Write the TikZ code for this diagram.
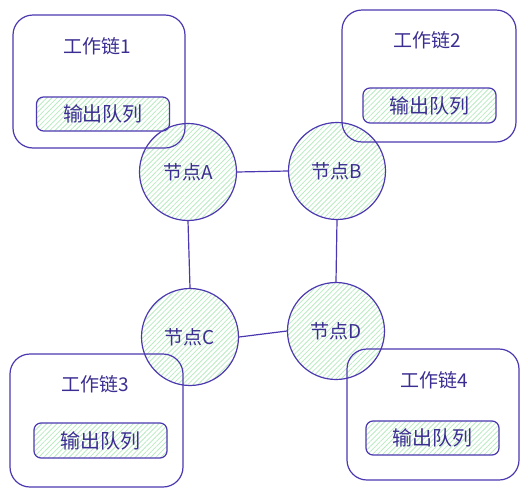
\documentclass[tikz,border=0pt]{standalone}
\usepackage{fontspec}
\newfontfamily\cjk{Noto Sans CJK SC}
\usetikzlibrary{patterns.meta}
\definecolor{ink}{HTML}{4B38B0}
\definecolor{txt}{HTML}{3B2E92}
\definecolor{hatch}{HTML}{B8EBC0}
\tikzset{
  chainbox/.style={draw=ink, line width=1.2pt, rounded corners=20pt, minimum width=#1, minimum height=133pt, inner sep=0pt},
  queuebox/.style={draw=ink, line width=1.2pt, rounded corners=7pt, minimum width=133pt, minimum height=34pt, inner sep=0pt,
    pattern={Lines[angle=45,distance=3.6pt,line width=0.8pt]}, pattern color=hatch, text=txt, font=\cjk\fontsize{20}{20}\selectfont},
  nodecircle/.style={circle, draw=ink, line width=1.2pt, minimum size=97pt, inner sep=0pt,
    pattern={Lines[angle=45,distance=3.6pt,line width=0.8pt]}, pattern color=hatch, text=txt, font=\cjk\fontsize{19}{19}\selectfont},
  title/.style={text=txt, font=\cjk\fontsize{19}{19}\selectfont, inner sep=0pt},
  link/.style={draw=ink, line width=1.2pt}
}
\begin{document}
\begin{tikzpicture}[x=1pt,y=-1pt]
\useasboundingbox (0,0) rectangle (528,496);
% circles
\node[nodecircle] (A) at (188,172) {节点A};
\node[nodecircle] (B) at (337,171) {节点B};
\node[nodecircle] (C) at (190,337) {节点C};
\node[nodecircle] (D) at (336,331) {节点D};
% links
\draw[link] (A.east) -- (B.west);
\draw[link] (A.south) -- (C.north);
\draw[link] (B.south) -- (D.north);
\draw[link] (C.east) -- (D.west);
% chain boxes
\node[chainbox=172pt] (W1) at (99,81.5) {};
\node[chainbox=174pt, minimum height=132pt] (W2) at (429,76) {};
\node[chainbox=173pt] (W3) at (96.5,420.5) {};
\node[chainbox=172pt, minimum height=131pt] (W4) at (433,414.5) {};
% titles
\node[title] (T1) at (97,46) {工作链1};
\node[title] (T2) at (427,40) {工作链2};
\node[title] (T3) at (95,384) {工作链3};
\node[title] (T4) at (434,380) {工作链4};
% queues
\node[queuebox] (Q1) at (103,114) {输出队列};
\node[queuebox, minimum height=35pt] (Q2) at (429.5,105.5) {输出队列};
\node[queuebox, minimum height=35pt] (Q3) at (100.5,440.5) {输出队列};
\node[queuebox] (Q4) at (432.5,438) {输出队列};
\end{tikzpicture}
\end{document}
